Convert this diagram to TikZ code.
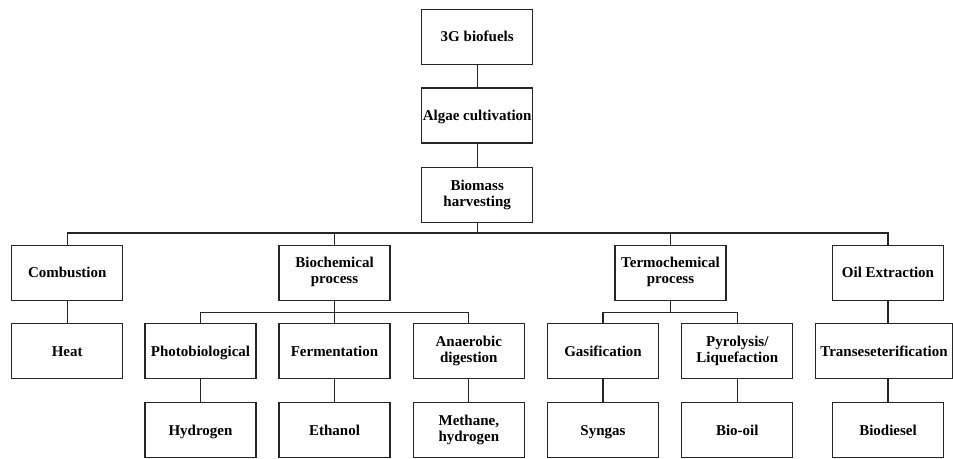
\documentclass[tikz,border=0pt]{standalone}
\usepackage{fontspec}
\setmainfont{Liberation Serif}
% strut that keeps the capitals of every label centred in its box
\newcommand\boxstrut{\rule[-4pt]{0pt}{18pt}}
\begin{document}
\begin{tikzpicture}[x=1pt,y=-1pt,
  box/.style={draw=black!85,line width=1.1pt,rectangle,minimum width=111pt,minimum height=55pt,
    inner sep=0pt,align=center,font=\fontsize{15}{16}\selectfont\bfseries,
    execute at begin node=\boxstrut,execute at end node=\boxstrut},
  link/.style={draw=black!85,line width=1.1pt}]
\useasboundingbox (0,0) rectangle (953,458);

% main chain
\node[box] (top) at (477.2,36.7) {3G biofuels};
\node[box] (alg) at (477.2,115.5) {Algae cultivation};
\node[box] (bio) at (477.2,195) {Biomass\\harvesting};

% process routes
\node[box] (comb) at (67.2,272.7) {Combustion};
\node[box] (bchem) at (334.5,272.7) {Biochemical\\process};
\node[box] (tchem) at (670.5,272.7) {Termochemical\\process};
\node[box] (oil) at (888,272.7) {Oil Extraction};

% intermediate steps
\node[box] (heat) at (67.2,351.3) {Heat};
\node[box] (photo) at (200.5,351.3) {Photobiological};
\node[box] (ferm) at (334.5,351.3) {Fermentation};
\node[box] (anaer) at (468.8,351.3) {Anaerobic\\digestion};
\node[box] (gasif) at (603,351.3) {Gasification};
\node[box] (pyro) at (737.3,351.3) {Pyrolysis/\\Liquefaction};
\node[box,minimum width=137pt] (trans) at (884,351.3) {Transeseterification};

% products
\node[box] (hydro) at (200.5,430) {Hydrogen};
\node[box] (eth) at (334.5,430) {Ethanol};
\node[box] (meth) at (468.8,430) {Methane,\\hydrogen};
\node[box] (syn) at (603,430) {Syngas};
\node[box] (boil) at (737.3,430) {Bio-oil};
\node[box] (bdsl) at (888,430) {Biodiesel};

% bus junctions
\coordinate (bus) at (477.2,233);
\coordinate (bcbus) at (334.5,312.3);
\coordinate (tcbus) at (670.5,312.3);

\draw[link] (top) -- (alg);
\draw[link] (alg) -- (bio);
\draw[link] (bio) -- (bus);
\draw[link] (comb.north) |- (bus) -| (oil.north);
\draw[link] (bus) -| (bchem.north);
\draw[link] (bus) -| (tchem.north);

\draw[link] (comb) -- (heat);
\draw[link] (bchem) -- (bcbus);
\draw[link] (photo.north) |- (bcbus) -| (anaer.north);
\draw[link] (bcbus) -- (ferm);
\draw[link] (tchem) -- (tcbus);
\draw[link] (gasif.north) |- (tcbus) -| (pyro.north);
\draw[link] (oil.south) -- (oil.south |- trans.north);

\draw[link] (photo) -- (hydro);
\draw[link] (ferm) -- (eth);
\draw[link] (anaer) -- (meth);
\draw[link] (gasif) -- (syn);
\draw[link] (pyro) -- (boil);
\draw[link] (trans.south -| bdsl) -- (bdsl);
\end{tikzpicture}
\end{document}
